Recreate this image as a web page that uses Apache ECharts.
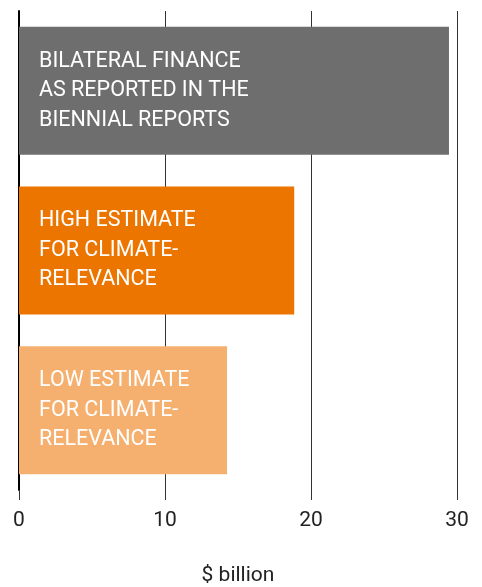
<!DOCTYPE html>
<html><head><meta charset="utf-8">
<script src="https://cdn.jsdelivr.net/npm/echarts@6/dist/echarts.min.js"></script>
<style>html,body{margin:0;padding:0;background:#fff;overflow:hidden}#c{width:482px;height:587px}</style>
</head><body><div id="c"></div>
<script>
const categories = ["BILATERAL FINANCE\nAS REPORTED IN THE\nBIENNIAL REPORTS", "HIGH ESTIMATE\nFOR CLIMATE-\nRELEVANCE", "LOW ESTIMATE\nFOR CLIMATE-\nRELEVANCE"];
const values = [29.45, 18.85, 14.25];
const barColors = ["#6e6e6e", "#ec7500", "#f5b06f"];
const xTicks = [0, 10, 20, 30];
const axisName = "$ billion";

const chart = echarts.init(document.getElementById('c'), null, {renderer: 'canvas'});
chart.setOption({
  animation: false,
  grid: {left: 19, right: 25, top: 11, bottom: 97, containLabel: false, outerBoundsMode: 'none'},
  xAxis: {
    type: 'value', min: 0, max: 30, interval: 10,
    name: axisName, nameLocation: 'middle', nameGap: 75,
    nameTextStyle: {fontFamily: 'Roboto', fontSize: 21, color: '#222'},
    axisLine: {show: false},
    axisTick: {show: true, length: 10, lineStyle: {color: '#333', width: 1}},
    axisLabel: {margin: 20, fontFamily: 'Roboto', fontSize: 21, color: '#222',
      formatter: v => xTicks.includes(v) ? String(v) : ''},
    splitLine: {show: true, lineStyle: {color: '#333', width: 1}}
  },
  yAxis: {
    type: 'category', data: categories, inverse: true,
    axisLine: {show: true, lineStyle: {color: '#000', width: 2}},
    axisTick: {show: false}, axisLabel: {show: false}
  },
  series: [{
    type: 'bar', barWidth: 128,
    data: values.map((v, i) => ({value: v, itemStyle: {color: barColors[i]}})),
    label: {show: true, position: 'insideLeft', distance: 20,
      formatter: p => categories[p.dataIndex],
      fontFamily: 'Roboto', fontSize: 21.5, lineHeight: 29.5, color: '#fff'}
  }]
});
</script></body></html>
